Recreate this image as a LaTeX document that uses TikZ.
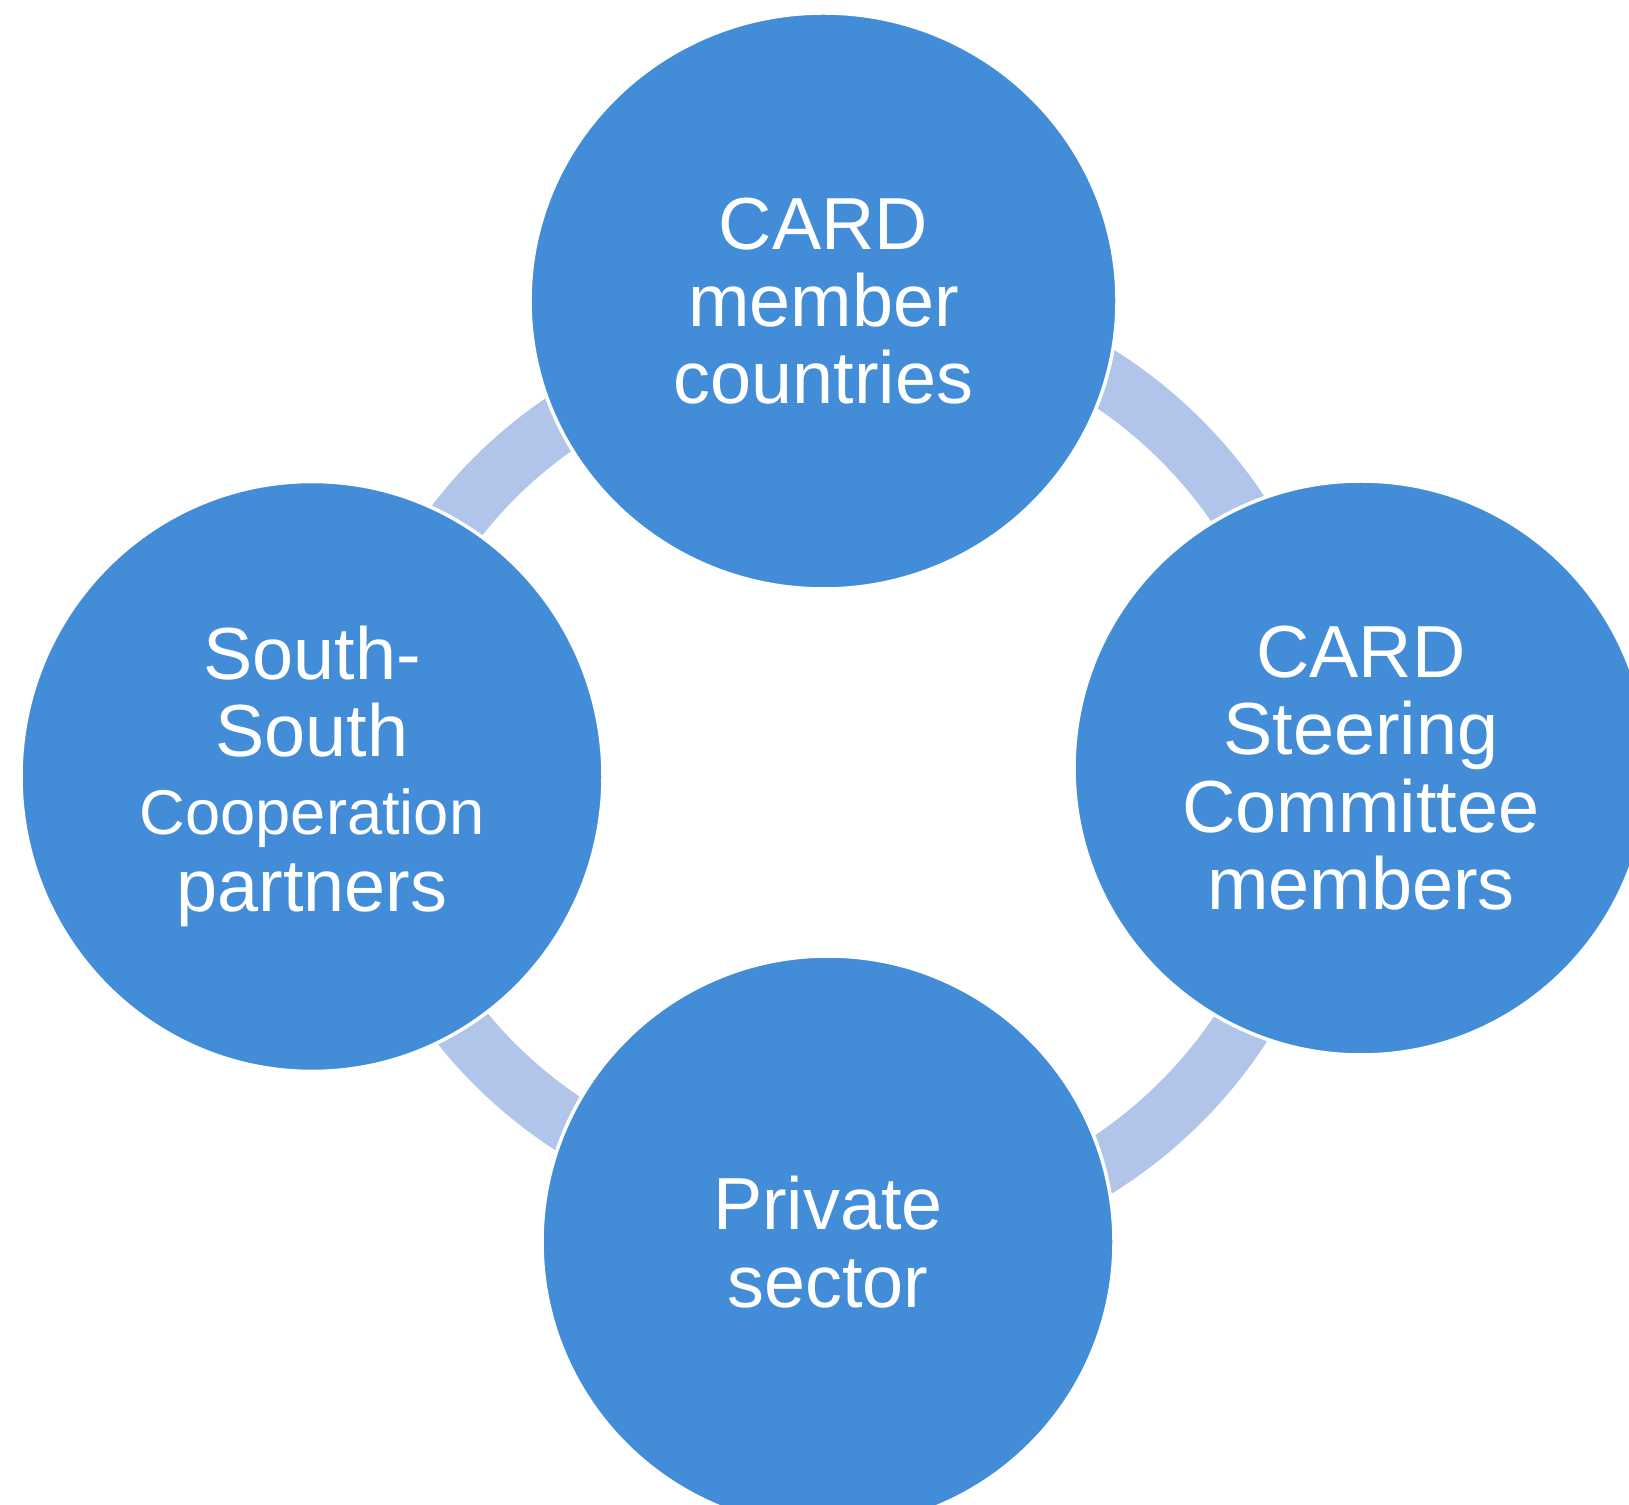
\documentclass[tikz,border=0pt]{standalone}
\usepackage{fontspec}
\setmainfont{Liberation Sans}
\usepackage{tikz}
\usetikzlibrary{shapes.geometric}
\definecolor{cardblue}{RGB}{67,141,216}
\definecolor{ringblue}{RGB}{176,197,233}
\tikzset{
    partner/.style={ellipse, fill=cardblue, draw=white, line width=1pt,
    	inner sep=0pt, text=white, align=center,
    	font=\fontsize{21}{22}\selectfont}
}
\tikzset{
    ring/.style={draw=ringblue, line width=0.58cm}
}
\pgfdeclarelayer{background}
\pgfsetlayers{background,main}

\begin{document}
\begin{tikzpicture}
	\clip (0,0) rectangle (16.29,15.04);
	\coordinate (hub) at (8.50,7.33);
	\node (members) [partner, minimum width=5.87cm, minimum height=5.76cm]
		at (8.235,12.03) {CARD\\member\\countries};
	\node (steering) [partner, minimum width=5.74cm, minimum height=5.74cm]
		at (13.61,7.36) {CARD\\Steering\\Committee\\members};
	\node (private) [partner, minimum width=5.72cm, minimum height=5.72cm]
		at (8.28,2.62) {Private\\sector};
	\node (south) [partner, minimum width=5.82cm, minimum height=5.90cm]
		at (3.12,7.275) {South-\\South\\{\fontsize{18}{22}\selectfont Cooperation}\\partners};
	
	\begin{pgfonlayer}{background}
		% right half round, left half a little flatter
		\draw[ring] ([yshift=-4.68cm]hub) arc[start angle=-90, end angle=90, radius=4.68cm];
		\draw[ring] ([yshift=4.36cm]hub) arc[start angle=90, end angle=270,
			x radius=4.80cm, y radius=4.36cm];
	\end{pgfonlayer}
\end{tikzpicture}
\end{document}
